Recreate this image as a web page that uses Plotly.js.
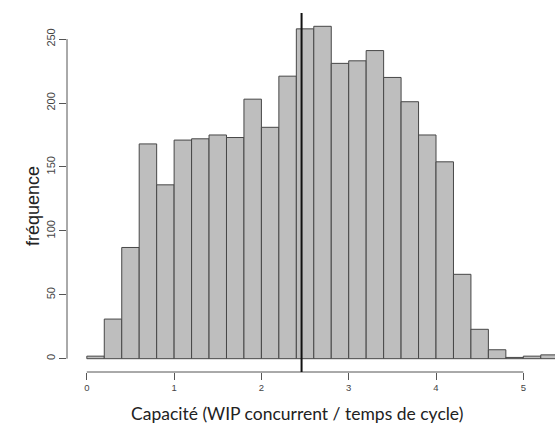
<!DOCTYPE html>
<html>
<head>
<meta charset="utf-8">
<script src="https://cdn.plot.ly/plotly-3.0.1.min.js"></script>
<style>html,body{margin:0;padding:0;background:#fff;}#chart{width:555px;height:425px;}</style>
</head>
<body>
<div id="chart"></div>
<script>
// Bin starts (width 0.2) and counts
const binStarts = [0.0, 0.2, 0.4, 0.6, 0.8, 1.0, 1.2, 1.4, 1.6, 1.8, 2.0, 2.2, 2.4, 2.6, 2.8, 3.0, 3.2, 3.4, 3.6, 3.8, 4.0, 4.2, 4.4, 4.6, 4.8, 5.0, 5.2];
const counts    = [2, 31, 87, 168, 136, 171, 172, 175, 173, 203, 181, 221, 258, 260, 231, 233, 241, 220, 201, 175, 154, 66, 23, 7, 1, 2, 3];
const binWidth = 0.2;
const verticalLineX = 2.46;
const xTickVals = [0, 1, 2, 3, 4, 5];
const yTickVals = [0, 50, 100, 150, 200, 250];
const xTitle = "Capacité (WIP concurrent / temps de cycle)";
const yTitle = "fréquence";

const axisGray = "#555555";
const xTickFont = {family: "Liberation Sans, Arial, sans-serif", size: 9.5, color: "#444444"};
const yTickFont = {family: "Liberation Sans, Arial, sans-serif", size: 11, color: "#444444"};

const trace = {
  type: "bar",
  x: binStarts,
  y: counts,
  width: binStarts.map(() => binWidth),
  offset: 0,
  marker: {color: "#bebebe", line: {color: "#474747", width: 1}},
  hoverinfo: "x+y"
};

const layout = {
  width: 555,
  height: 425,
  margin: {l: 67, r: 0, t: 13, b: 53, pad: 0},
  paper_bgcolor: "#ffffff",
  plot_bgcolor: "#ffffff",
  showlegend: false,
  bargap: 0,
  xaxis: {
    range: [-0.227, 5.363],
    tickvals: xTickVals,
    ticktext: xTickVals.map(String),
    ticks: "outside",
    ticklen: 7,
    tickwidth: 1,
    tickcolor: axisGray,
    showgrid: false,
    zeroline: false,
    showline: false,
    tickfont: xTickFont
  },
  yaxis: {
    range: [-10.4, 270.4],
    tickvals: yTickVals,
    ticktext: yTickVals.map(String),
    ticks: "outside",
    ticklen: 7,
    tickwidth: 1,
    tickcolor: axisGray,
    tickangle: -90,
    showgrid: false,
    zeroline: false,
    showline: false,
    tickfont: yTickFont
  },
  annotations: [
    {text: yTitle, xref: "paper", yref: "paper", x: -0.0697, y: 0.4624, xanchor: "center", yanchor: "middle",
     textangle: -90, showarrow: false, font: {family: "Liberation Sans, Arial, sans-serif", size: 18, color: "#222222"}},
    {text: xTitle, xref: "paper", yref: "paper", x: 0.4723, y: -0.1156, xanchor: "center", yanchor: "middle",
     showarrow: false, font: {family: "Lato, Open Sans, sans-serif", size: 17.5, color: "#222222"}}
  ],
  shapes: [
    {type: "line", xref: "paper", yref: "y", x0: 0, x1: 0, y0: yTickVals[0], y1: yTickVals[yTickVals.length - 1], line: {color: axisGray, width: 1}},
    {type: "line", xref: "x", yref: "paper", x0: xTickVals[0], x1: xTickVals[xTickVals.length - 1], y0: 0, y1: 0, line: {color: axisGray, width: 1}},
    {type: "line", xref: "x", yref: "paper", x0: verticalLineX, x1: verticalLineX, y0: 0, y1: 1, line: {color: "#111111", width: 2}}
  ]
};

Plotly.newPlot("chart", [trace], layout, {displayModeBar: false, staticPlot: true});
</script>
</body>
</html>
